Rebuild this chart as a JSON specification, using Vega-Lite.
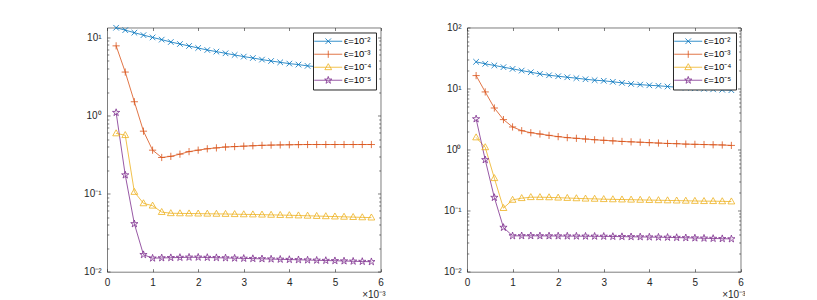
{
  "$schema": "https://vega.github.io/schema/vega-lite/v6.json",
  "autosize": {"type": "pad"},
  "padding": {"left": 83, "top": 22.5, "right": 0, "bottom": 0},
  "config": {
    "font": "Liberation Sans",
    "view": {"stroke": null},
    "axis": {"domainColor": "#262626", "domainWidth": 0.6, "tickColor": "#262626", "tickWidth": 0.6, "labelColor": "#262626", "labelFontSize": 10, "labelFont": "Liberation Sans", "grid": false, "titleColor": "#262626", "titleFont": "Liberation Sans", "titleFontWeight": "normal", "titleFontSize": 10, "labelFlush": false, "labelOverlap": false},
    "point": {"filled": false, "size": 64, "strokeWidth": 0.8, "opacity": 1}
  },
  "datasets": {
    "d": [
      {"p":"L","s":"ϵ=10⁻²","x":0.2,"y":13.3},{"p":"L","s":"ϵ=10⁻²","x":0.4,"y":12.4},{"p":"L","s":"ϵ=10⁻²","x":0.6,"y":11.5},{"p":"L","s":"ϵ=10⁻²","x":0.8,"y":10.7},{"p":"L","s":"ϵ=10⁻²","x":1,"y":10.0},{"p":"L","s":"ϵ=10⁻²","x":1.2,"y":9.37},{"p":"L","s":"ϵ=10⁻²","x":1.4,"y":8.73},{"p":"L","s":"ϵ=10⁻²","x":1.6,"y":8.24},{"p":"L","s":"ϵ=10⁻²","x":1.8,"y":7.77},{"p":"L","s":"ϵ=10⁻²","x":2,"y":7.32},{"p":"L","s":"ϵ=10⁻²","x":2.2,"y":6.9},{"p":"L","s":"ϵ=10⁻²","x":2.4,"y":6.58},{"p":"L","s":"ϵ=10⁻²","x":2.6,"y":6.26},{"p":"L","s":"ϵ=10⁻²","x":2.8,"y":5.96},{"p":"L","s":"ϵ=10⁻²","x":3,"y":5.68},{"p":"L","s":"ϵ=10⁻²","x":3.2,"y":5.45},{"p":"L","s":"ϵ=10⁻²","x":3.4,"y":5.2},{"p":"L","s":"ϵ=10⁻²","x":3.6,"y":4.99},{"p":"L","s":"ϵ=10⁻²","x":3.8,"y":4.8},{"p":"L","s":"ϵ=10⁻²","x":4,"y":4.62},{"p":"L","s":"ϵ=10⁻²","x":4.2,"y":4.49},{"p":"L","s":"ϵ=10⁻²","x":4.4,"y":4.32},{"p":"L","s":"ϵ=10⁻²","x":4.6,"y":4.22},{"p":"L","s":"ϵ=10⁻²","x":4.8,"y":4.15},{"p":"L","s":"ϵ=10⁻²","x":5,"y":4.1},{"p":"L","s":"ϵ=10⁻²","x":5.2,"y":4.06},{"p":"L","s":"ϵ=10⁻²","x":5.4,"y":4.03},{"p":"L","s":"ϵ=10⁻²","x":5.6,"y":4.0},{"p":"L","s":"ϵ=10⁻²","x":5.8,"y":3.98},
      {"p":"L","s":"ϵ=10⁻³","x":0.2,"y":7.8},{"p":"L","s":"ϵ=10⁻³","x":0.4,"y":3.6},{"p":"L","s":"ϵ=10⁻³","x":0.6,"y":1.5},{"p":"L","s":"ϵ=10⁻³","x":0.8,"y":0.63},{"p":"L","s":"ϵ=10⁻³","x":1,"y":0.36},{"p":"L","s":"ϵ=10⁻³","x":1.2,"y":0.29},{"p":"L","s":"ϵ=10⁻³","x":1.4,"y":0.3},{"p":"L","s":"ϵ=10⁻³","x":1.6,"y":0.32},{"p":"L","s":"ϵ=10⁻³","x":1.8,"y":0.345},{"p":"L","s":"ϵ=10⁻³","x":2,"y":0.36},{"p":"L","s":"ϵ=10⁻³","x":2.2,"y":0.375},{"p":"L","s":"ϵ=10⁻³","x":2.4,"y":0.385},{"p":"L","s":"ϵ=10⁻³","x":2.6,"y":0.395},{"p":"L","s":"ϵ=10⁻³","x":2.8,"y":0.4},{"p":"L","s":"ϵ=10⁻³","x":3,"y":0.405},{"p":"L","s":"ϵ=10⁻³","x":3.2,"y":0.41},{"p":"L","s":"ϵ=10⁻³","x":3.4,"y":0.415},{"p":"L","s":"ϵ=10⁻³","x":3.6,"y":0.418},{"p":"L","s":"ϵ=10⁻³","x":3.8,"y":0.42},{"p":"L","s":"ϵ=10⁻³","x":4,"y":0.422},{"p":"L","s":"ϵ=10⁻³","x":4.2,"y":0.424},{"p":"L","s":"ϵ=10⁻³","x":4.4,"y":0.425},{"p":"L","s":"ϵ=10⁻³","x":4.6,"y":0.425},{"p":"L","s":"ϵ=10⁻³","x":4.8,"y":0.425},{"p":"L","s":"ϵ=10⁻³","x":5,"y":0.425},{"p":"L","s":"ϵ=10⁻³","x":5.2,"y":0.425},{"p":"L","s":"ϵ=10⁻³","x":5.4,"y":0.425},{"p":"L","s":"ϵ=10⁻³","x":5.6,"y":0.425},{"p":"L","s":"ϵ=10⁻³","x":5.8,"y":0.425},
      {"p":"L","s":"ϵ=10⁻⁴","x":0.2,"y":0.59},{"p":"L","s":"ϵ=10⁻⁴","x":0.4,"y":0.56},{"p":"L","s":"ϵ=10⁻⁴","x":0.6,"y":0.105},{"p":"L","s":"ϵ=10⁻⁴","x":0.8,"y":0.075},{"p":"L","s":"ϵ=10⁻⁴","x":1,"y":0.07},{"p":"L","s":"ϵ=10⁻⁴","x":1.2,"y":0.058},{"p":"L","s":"ϵ=10⁻⁴","x":1.4,"y":0.056},{"p":"L","s":"ϵ=10⁻⁴","x":1.6,"y":0.0558},{"p":"L","s":"ϵ=10⁻⁴","x":1.8,"y":0.0556},{"p":"L","s":"ϵ=10⁻⁴","x":2,"y":0.0554},{"p":"L","s":"ϵ=10⁻⁴","x":2.2,"y":0.0552},{"p":"L","s":"ϵ=10⁻⁴","x":2.4,"y":0.055},{"p":"L","s":"ϵ=10⁻⁴","x":2.6,"y":0.0548},{"p":"L","s":"ϵ=10⁻⁴","x":2.8,"y":0.0545},{"p":"L","s":"ϵ=10⁻⁴","x":3,"y":0.0542},{"p":"L","s":"ϵ=10⁻⁴","x":3.2,"y":0.054},{"p":"L","s":"ϵ=10⁻⁴","x":3.4,"y":0.0537},{"p":"L","s":"ϵ=10⁻⁴","x":3.6,"y":0.0534},{"p":"L","s":"ϵ=10⁻⁴","x":3.8,"y":0.0531},{"p":"L","s":"ϵ=10⁻⁴","x":4,"y":0.0528},{"p":"L","s":"ϵ=10⁻⁴","x":4.2,"y":0.0524},{"p":"L","s":"ϵ=10⁻⁴","x":4.4,"y":0.052},{"p":"L","s":"ϵ=10⁻⁴","x":4.6,"y":0.0516},{"p":"L","s":"ϵ=10⁻⁴","x":4.8,"y":0.0512},{"p":"L","s":"ϵ=10⁻⁴","x":5,"y":0.0508},{"p":"L","s":"ϵ=10⁻⁴","x":5.2,"y":0.0504},{"p":"L","s":"ϵ=10⁻⁴","x":5.4,"y":0.05},{"p":"L","s":"ϵ=10⁻⁴","x":5.6,"y":0.0496},{"p":"L","s":"ϵ=10⁻⁴","x":5.8,"y":0.0493},
      {"p":"L","s":"ϵ=10⁻⁵","x":0.2,"y":1.09},{"p":"L","s":"ϵ=10⁻⁵","x":0.4,"y":0.173},{"p":"L","s":"ϵ=10⁻⁵","x":0.6,"y":0.041},{"p":"L","s":"ϵ=10⁻⁵","x":0.8,"y":0.0165},{"p":"L","s":"ϵ=10⁻⁵","x":1,"y":0.0149},{"p":"L","s":"ϵ=10⁻⁵","x":1.2,"y":0.015},{"p":"L","s":"ϵ=10⁻⁵","x":1.4,"y":0.0151},{"p":"L","s":"ϵ=10⁻⁵","x":1.6,"y":0.0152},{"p":"L","s":"ϵ=10⁻⁵","x":1.8,"y":0.0153},{"p":"L","s":"ϵ=10⁻⁵","x":2,"y":0.0153},{"p":"L","s":"ϵ=10⁻⁵","x":2.2,"y":0.0152},{"p":"L","s":"ϵ=10⁻⁵","x":2.4,"y":0.0151},{"p":"L","s":"ϵ=10⁻⁵","x":2.6,"y":0.015},{"p":"L","s":"ϵ=10⁻⁵","x":2.8,"y":0.0149},{"p":"L","s":"ϵ=10⁻⁵","x":3,"y":0.0148},{"p":"L","s":"ϵ=10⁻⁵","x":3.2,"y":0.0147},{"p":"L","s":"ϵ=10⁻⁵","x":3.4,"y":0.0146},{"p":"L","s":"ϵ=10⁻⁵","x":3.6,"y":0.0145},{"p":"L","s":"ϵ=10⁻⁵","x":3.8,"y":0.0144},{"p":"L","s":"ϵ=10⁻⁵","x":4,"y":0.0143},{"p":"L","s":"ϵ=10⁻⁵","x":4.2,"y":0.0142},{"p":"L","s":"ϵ=10⁻⁵","x":4.4,"y":0.0141},{"p":"L","s":"ϵ=10⁻⁵","x":4.6,"y":0.014},{"p":"L","s":"ϵ=10⁻⁵","x":4.8,"y":0.0139},{"p":"L","s":"ϵ=10⁻⁵","x":5,"y":0.0138},{"p":"L","s":"ϵ=10⁻⁵","x":5.2,"y":0.0137},{"p":"L","s":"ϵ=10⁻⁵","x":5.4,"y":0.0136},{"p":"L","s":"ϵ=10⁻⁵","x":5.6,"y":0.0135},{"p":"L","s":"ϵ=10⁻⁵","x":5.8,"y":0.0134},
      {"p":"R","s":"ϵ=10⁻²","x":0.2,"y":27.4},{"p":"R","s":"ϵ=10⁻²","x":0.4,"y":25.4},{"p":"R","s":"ϵ=10⁻²","x":0.6,"y":23.9},{"p":"R","s":"ϵ=10⁻²","x":0.8,"y":22.4},{"p":"R","s":"ϵ=10⁻²","x":1,"y":21.0},{"p":"R","s":"ϵ=10⁻²","x":1.2,"y":19.7},{"p":"R","s":"ϵ=10⁻²","x":1.4,"y":18.5},{"p":"R","s":"ϵ=10⁻²","x":1.6,"y":17.4},{"p":"R","s":"ϵ=10⁻²","x":1.8,"y":16.5},{"p":"R","s":"ϵ=10⁻²","x":2,"y":15.9},{"p":"R","s":"ϵ=10⁻²","x":2.2,"y":15.3},{"p":"R","s":"ϵ=10⁻²","x":2.4,"y":14.8},{"p":"R","s":"ϵ=10⁻²","x":2.6,"y":14.2},{"p":"R","s":"ϵ=10⁻²","x":2.8,"y":13.7},{"p":"R","s":"ϵ=10⁻²","x":3,"y":13.4},{"p":"R","s":"ϵ=10⁻²","x":3.2,"y":12.9},{"p":"R","s":"ϵ=10⁻²","x":3.4,"y":12.4},{"p":"R","s":"ϵ=10⁻²","x":3.6,"y":11.9},{"p":"R","s":"ϵ=10⁻²","x":3.8,"y":11.6},{"p":"R","s":"ϵ=10⁻²","x":4,"y":11.3},{"p":"R","s":"ϵ=10⁻²","x":4.2,"y":11.1},{"p":"R","s":"ϵ=10⁻²","x":4.4,"y":10.8},{"p":"R","s":"ϵ=10⁻²","x":4.6,"y":10.5},{"p":"R","s":"ϵ=10⁻²","x":4.8,"y":10.3},{"p":"R","s":"ϵ=10⁻²","x":5,"y":10.1},{"p":"R","s":"ϵ=10⁻²","x":5.2,"y":9.9},{"p":"R","s":"ϵ=10⁻²","x":5.4,"y":9.7},{"p":"R","s":"ϵ=10⁻²","x":5.6,"y":9.55},{"p":"R","s":"ϵ=10⁻²","x":5.8,"y":9.4},
      {"p":"R","s":"ϵ=10⁻³","x":0.2,"y":16.3},{"p":"R","s":"ϵ=10⁻³","x":0.4,"y":8.8},{"p":"R","s":"ϵ=10⁻³","x":0.6,"y":4.8},{"p":"R","s":"ϵ=10⁻³","x":0.8,"y":3.1},{"p":"R","s":"ϵ=10⁻³","x":1,"y":2.35},{"p":"R","s":"ϵ=10⁻³","x":1.2,"y":2.04},{"p":"R","s":"ϵ=10⁻³","x":1.4,"y":1.89},{"p":"R","s":"ϵ=10⁻³","x":1.6,"y":1.8},{"p":"R","s":"ϵ=10⁻³","x":1.8,"y":1.71},{"p":"R","s":"ϵ=10⁻³","x":2,"y":1.63},{"p":"R","s":"ϵ=10⁻³","x":2.2,"y":1.57},{"p":"R","s":"ϵ=10⁻³","x":2.4,"y":1.53},{"p":"R","s":"ϵ=10⁻³","x":2.6,"y":1.49},{"p":"R","s":"ϵ=10⁻³","x":2.8,"y":1.45},{"p":"R","s":"ϵ=10⁻³","x":3,"y":1.42},{"p":"R","s":"ϵ=10⁻³","x":3.2,"y":1.39},{"p":"R","s":"ϵ=10⁻³","x":3.4,"y":1.36},{"p":"R","s":"ϵ=10⁻³","x":3.6,"y":1.34},{"p":"R","s":"ϵ=10⁻³","x":3.8,"y":1.32},{"p":"R","s":"ϵ=10⁻³","x":4,"y":1.3},{"p":"R","s":"ϵ=10⁻³","x":4.2,"y":1.28},{"p":"R","s":"ϵ=10⁻³","x":4.4,"y":1.26},{"p":"R","s":"ϵ=10⁻³","x":4.6,"y":1.25},{"p":"R","s":"ϵ=10⁻³","x":4.8,"y":1.23},{"p":"R","s":"ϵ=10⁻³","x":5,"y":1.22},{"p":"R","s":"ϵ=10⁻³","x":5.2,"y":1.21},{"p":"R","s":"ϵ=10⁻³","x":5.4,"y":1.2},{"p":"R","s":"ϵ=10⁻³","x":5.6,"y":1.19},{"p":"R","s":"ϵ=10⁻³","x":5.8,"y":1.17},
      {"p":"R","s":"ϵ=10⁻⁴","x":0.2,"y":1.58},{"p":"R","s":"ϵ=10⁻⁴","x":0.4,"y":1.09},{"p":"R","s":"ϵ=10⁻⁴","x":0.6,"y":0.34},{"p":"R","s":"ϵ=10⁻⁴","x":0.8,"y":0.11},{"p":"R","s":"ϵ=10⁻⁴","x":1,"y":0.15},{"p":"R","s":"ϵ=10⁻⁴","x":1.2,"y":0.16},{"p":"R","s":"ϵ=10⁻⁴","x":1.4,"y":0.166},{"p":"R","s":"ϵ=10⁻⁴","x":1.6,"y":0.166},{"p":"R","s":"ϵ=10⁻⁴","x":1.8,"y":0.165},{"p":"R","s":"ϵ=10⁻⁴","x":2,"y":0.163},{"p":"R","s":"ϵ=10⁻⁴","x":2.2,"y":0.161},{"p":"R","s":"ϵ=10⁻⁴","x":2.4,"y":0.159},{"p":"R","s":"ϵ=10⁻⁴","x":2.6,"y":0.157},{"p":"R","s":"ϵ=10⁻⁴","x":2.8,"y":0.156},{"p":"R","s":"ϵ=10⁻⁴","x":3,"y":0.154},{"p":"R","s":"ϵ=10⁻⁴","x":3.2,"y":0.153},{"p":"R","s":"ϵ=10⁻⁴","x":3.4,"y":0.152},{"p":"R","s":"ϵ=10⁻⁴","x":3.6,"y":0.151},{"p":"R","s":"ϵ=10⁻⁴","x":3.8,"y":0.15},{"p":"R","s":"ϵ=10⁻⁴","x":4,"y":0.149},{"p":"R","s":"ϵ=10⁻⁴","x":4.2,"y":0.148},{"p":"R","s":"ϵ=10⁻⁴","x":4.4,"y":0.147},{"p":"R","s":"ϵ=10⁻⁴","x":4.6,"y":0.146},{"p":"R","s":"ϵ=10⁻⁴","x":4.8,"y":0.145},{"p":"R","s":"ϵ=10⁻⁴","x":5,"y":0.144},{"p":"R","s":"ϵ=10⁻⁴","x":5.2,"y":0.143},{"p":"R","s":"ϵ=10⁻⁴","x":5.4,"y":0.143},{"p":"R","s":"ϵ=10⁻⁴","x":5.6,"y":0.142},{"p":"R","s":"ϵ=10⁻⁴","x":5.8,"y":0.141},
      {"p":"R","s":"ϵ=10⁻⁵","x":0.2,"y":3.18},{"p":"R","s":"ϵ=10⁻⁵","x":0.4,"y":0.68},{"p":"R","s":"ϵ=10⁻⁵","x":0.6,"y":0.164},{"p":"R","s":"ϵ=10⁻⁵","x":0.8,"y":0.053},{"p":"R","s":"ϵ=10⁻⁵","x":1,"y":0.0386},{"p":"R","s":"ϵ=10⁻⁵","x":1.2,"y":0.0387},{"p":"R","s":"ϵ=10⁻⁵","x":1.4,"y":0.0387},{"p":"R","s":"ϵ=10⁻⁵","x":1.6,"y":0.0386},{"p":"R","s":"ϵ=10⁻⁵","x":1.8,"y":0.0385},{"p":"R","s":"ϵ=10⁻⁵","x":2,"y":0.0384},{"p":"R","s":"ϵ=10⁻⁵","x":2.2,"y":0.0383},{"p":"R","s":"ϵ=10⁻⁵","x":2.4,"y":0.0382},{"p":"R","s":"ϵ=10⁻⁵","x":2.6,"y":0.0381},{"p":"R","s":"ϵ=10⁻⁵","x":2.8,"y":0.038},{"p":"R","s":"ϵ=10⁻⁵","x":3,"y":0.0379},{"p":"R","s":"ϵ=10⁻⁵","x":3.2,"y":0.0377},{"p":"R","s":"ϵ=10⁻⁵","x":3.4,"y":0.0375},{"p":"R","s":"ϵ=10⁻⁵","x":3.6,"y":0.0373},{"p":"R","s":"ϵ=10⁻⁵","x":3.8,"y":0.0371},{"p":"R","s":"ϵ=10⁻⁵","x":4,"y":0.0369},{"p":"R","s":"ϵ=10⁻⁵","x":4.2,"y":0.0367},{"p":"R","s":"ϵ=10⁻⁵","x":4.4,"y":0.0365},{"p":"R","s":"ϵ=10⁻⁵","x":4.6,"y":0.0362},{"p":"R","s":"ϵ=10⁻⁵","x":4.8,"y":0.0359},{"p":"R","s":"ϵ=10⁻⁵","x":5,"y":0.0356},{"p":"R","s":"ϵ=10⁻⁵","x":5.2,"y":0.0353},{"p":"R","s":"ϵ=10⁻⁵","x":5.4,"y":0.035},{"p":"R","s":"ϵ=10⁻⁵","x":5.6,"y":0.0347},{"p":"R","s":"ϵ=10⁻⁵","x":5.8,"y":0.0344}
    ]
  },
  "spacing": 86,
  "bounds": "flush",
  "resolve": {"scale": {"color": "independent", "x": "independent", "y": "independent"}, "legend": {"color": "independent"}},
  "hconcat": [
    {
      "width": 273.5, "height": 244.2,
      "data": {"name": "d"},
      "transform": [{"filter": "datum.p === 'L'"}],
      "resolve": {"axis": {"x": "independent", "y": "independent"}},
      "encoding": {
        "x": {"field": "x", "type": "quantitative", "scale": {"domain": [0, 6]}, "axis": null},
        "y": {"field": "y", "type": "quantitative", "scale": {"type": "log", "domain": [0.01, 13.4]}, "axis": null},
        "color": {"field": "s", "type": "nominal", "scale": {"domain": ["ϵ=10⁻²","ϵ=10⁻³","ϵ=10⁻⁴","ϵ=10⁻⁵"], "range": ["#0072BD","#D95319","#EDB120","#7E2F8E"]}, "legend": null}
      },
      "layer": [
        {
          "mark": {"type": "line", "strokeWidth": 0.8},
          "encoding": {
            "x": {"field": "x", "type": "quantitative", "axis": {"values": [0,1,2,3,4,5,6], "tickSize": -3, "labelPadding": 9, "title": "×10⁻³", "titleAnchor": "end", "titleAlign": "right", "titleX": 278, "titleY": 26, "titleBaseline": "alphabetic"}},
            "y": {"field": "y", "type": "quantitative", "axis": {"title": null, "values": [0.01,0.02,0.03,0.04,0.05,0.06,0.07,0.08,0.09,0.1,0.2,0.3,0.4,0.5,0.6,0.7,0.8,0.9,1,2,3,4,5,6,7,8,9,10], "tickSize": -3, "labelPadding": 9, "tickDash": {"condition": {"test": "datum.value == 0.01 || datum.value == 0.1 || datum.value == 1 || datum.value == 10 || datum.value == 100", "value": [10, 0]}, "value": [1.8, 10]}, "labelExpr": "datum.value == 0.01 ? '10⁻²' : datum.value == 0.1 ? '10⁻¹' : datum.value == 1 ? '10⁰' : datum.value == 10 ? '10¹' : datum.value == 100 ? '10²' : ''"}},
            "color": {"field": "s", "type": "nominal",
              "legend": {"orient": "top-right", "offset": 5, "title": null, "padding": 4, "strokeColor": "#262626", "fillColor": "white", "symbolSize": 64, "symbolStrokeWidth": 0.8, "symbolOffset": 6.5, "labelFont": "Liberation Sans", "labelFontSize": 9.5, "labelColor": "#000000", "rowPadding": 2, "labelOffset": 11,
                "encode": {"symbols": {"update": {"fill": {"value": "transparent"}, "shape": {"signal": "datum.value === 'ϵ=10⁻²' ? 'M-3.5,0L3.5,0M-0.7,-0.7L0.7,0.7M-0.7,0.7L0.7,-0.7' : datum.value === 'ϵ=10⁻³' ? 'M-3.5,0L3.5,0M0,-0.9L0,0.9' : datum.value === 'ϵ=10⁻⁴' ? 'M-3.5,0L3.5,0M0,-0.9L0.85,0.6L-0.85,0.6Z' : 'M-3.5,0L3.5,0M0,-0.95L0.213,-0.294L0.904,-0.294L0.345,0.112L0.559,0.769L0,0.363L-0.559,0.769L-0.345,0.112L-0.904,-0.294L-0.213,-0.294Z'"}}}}}}
          }
        },
        {"transform": [{"filter": "datum.s === 'ϵ=10⁻²'"}], "mark": {"type": "point", "shape": "M-0.7,-0.7L0.7,0.7M-0.7,0.7L0.7,-0.7"}},
        {"transform": [{"filter": "datum.s === 'ϵ=10⁻³'"}], "mark": {"type": "point", "shape": "M-0.9,0L0.9,0M0,-0.9L0,0.9"}},
        {"transform": [{"filter": "datum.s === 'ϵ=10⁻⁴'"}], "mark": {"type": "point", "shape": "M0,-0.9L0.85,0.6L-0.85,0.6Z"}},
        {"transform": [{"filter": "datum.s === 'ϵ=10⁻⁵'"}], "mark": {"type": "point", "shape": "M0,-0.95L0.213,-0.294L0.904,-0.294L0.345,0.112L0.559,0.769L0,0.363L-0.559,0.769L-0.345,0.112L-0.904,-0.294L-0.213,-0.294Z"}},
        {
          "mark": {"type": "line", "strokeOpacity": 0},
          "encoding": {
            "x": {"field": "x", "type": "quantitative", "axis": {"orient": "top", "values": [0,1,2,3,4,5,6], "tickSize": -3, "labels": false, "title": null}},
            "y": {"field": "y", "type": "quantitative", "axis": {"orient": "right", "title": null, "labels": false, "values": [0.01,0.02,0.03,0.04,0.05,0.06,0.07,0.08,0.09,0.1,0.2,0.3,0.4,0.5,0.6,0.7,0.8,0.9,1,2,3,4,5,6,7,8,9,10], "tickSize": -3, "tickDash": {"condition": {"test": "datum.value == 0.01 || datum.value == 0.1 || datum.value == 1 || datum.value == 10 || datum.value == 100", "value": [10, 0]}, "value": [1.8, 10]}}}
          }
        }
      ]
    },
    {
      "width": 273.5, "height": 244.2,
      "data": {"name": "d"},
      "transform": [{"filter": "datum.p === 'R'"}],
      "resolve": {"axis": {"x": "independent", "y": "independent"}},
      "encoding": {
        "x": {"field": "x", "type": "quantitative", "scale": {"domain": [0, 6]}, "axis": null},
        "y": {"field": "y", "type": "quantitative", "scale": {"type": "log", "domain": [0.01, 100]}, "axis": null},
        "color": {"field": "s", "type": "nominal", "scale": {"domain": ["ϵ=10⁻²","ϵ=10⁻³","ϵ=10⁻⁴","ϵ=10⁻⁵"], "range": ["#0072BD","#D95319","#EDB120","#7E2F8E"]}, "legend": null}
      },
      "layer": [
        {
          "mark": {"type": "line", "strokeWidth": 0.8},
          "encoding": {
            "x": {"field": "x", "type": "quantitative", "axis": {"values": [0,1,2,3,4,5,6], "tickSize": -3, "labelPadding": 9, "title": "×10⁻³", "titleAnchor": "end", "titleAlign": "right", "titleX": 278, "titleY": 26, "titleBaseline": "alphabetic"}},
            "y": {"field": "y", "type": "quantitative", "axis": {"title": null, "values": [0.01,0.02,0.03,0.04,0.05,0.06,0.07,0.08,0.09,0.1,0.2,0.3,0.4,0.5,0.6,0.7,0.8,0.9,1,2,3,4,5,6,7,8,9,10,20,30,40,50,60,70,80,90,100], "tickSize": -3, "labelPadding": 9, "tickDash": {"condition": {"test": "datum.value == 0.01 || datum.value == 0.1 || datum.value == 1 || datum.value == 10 || datum.value == 100", "value": [10, 0]}, "value": [1.8, 10]}, "labelExpr": "datum.value == 0.01 ? '10⁻²' : datum.value == 0.1 ? '10⁻¹' : datum.value == 1 ? '10⁰' : datum.value == 10 ? '10¹' : datum.value == 100 ? '10²' : ''"}},
            "color": {"field": "s", "type": "nominal",
              "legend": {"orient": "top-right", "offset": 5, "title": null, "padding": 4, "strokeColor": "#262626", "fillColor": "white", "symbolSize": 64, "symbolStrokeWidth": 0.8, "symbolOffset": 6.5, "labelFont": "Liberation Sans", "labelFontSize": 9.5, "labelColor": "#000000", "rowPadding": 2, "labelOffset": 11,
                "encode": {"symbols": {"update": {"fill": {"value": "transparent"}, "shape": {"signal": "datum.value === 'ϵ=10⁻²' ? 'M-3.5,0L3.5,0M-0.7,-0.7L0.7,0.7M-0.7,0.7L0.7,-0.7' : datum.value === 'ϵ=10⁻³' ? 'M-3.5,0L3.5,0M0,-0.9L0,0.9' : datum.value === 'ϵ=10⁻⁴' ? 'M-3.5,0L3.5,0M0,-0.9L0.85,0.6L-0.85,0.6Z' : 'M-3.5,0L3.5,0M0,-0.95L0.213,-0.294L0.904,-0.294L0.345,0.112L0.559,0.769L0,0.363L-0.559,0.769L-0.345,0.112L-0.904,-0.294L-0.213,-0.294Z'"}}}}}}
          }
        },
        {"transform": [{"filter": "datum.s === 'ϵ=10⁻²'"}], "mark": {"type": "point", "shape": "M-0.7,-0.7L0.7,0.7M-0.7,0.7L0.7,-0.7"}},
        {"transform": [{"filter": "datum.s === 'ϵ=10⁻³'"}], "mark": {"type": "point", "shape": "M-0.9,0L0.9,0M0,-0.9L0,0.9"}},
        {"transform": [{"filter": "datum.s === 'ϵ=10⁻⁴'"}], "mark": {"type": "point", "shape": "M0,-0.9L0.85,0.6L-0.85,0.6Z"}},
        {"transform": [{"filter": "datum.s === 'ϵ=10⁻⁵'"}], "mark": {"type": "point", "shape": "M0,-0.95L0.213,-0.294L0.904,-0.294L0.345,0.112L0.559,0.769L0,0.363L-0.559,0.769L-0.345,0.112L-0.904,-0.294L-0.213,-0.294Z"}},
        {
          "mark": {"type": "line", "strokeOpacity": 0},
          "encoding": {
            "x": {"field": "x", "type": "quantitative", "axis": {"orient": "top", "values": [0,1,2,3,4,5,6], "tickSize": -3, "labels": false, "title": null}},
            "y": {"field": "y", "type": "quantitative", "axis": {"orient": "right", "title": null, "labels": false, "values": [0.01,0.02,0.03,0.04,0.05,0.06,0.07,0.08,0.09,0.1,0.2,0.3,0.4,0.5,0.6,0.7,0.8,0.9,1,2,3,4,5,6,7,8,9,10,20,30,40,50,60,70,80,90,100], "tickSize": -3, "tickDash": {"condition": {"test": "datum.value == 0.01 || datum.value == 0.1 || datum.value == 1 || datum.value == 10 || datum.value == 100", "value": [10, 0]}, "value": [1.8, 10]}}}
          }
        }
      ]
    }
  ]
}
